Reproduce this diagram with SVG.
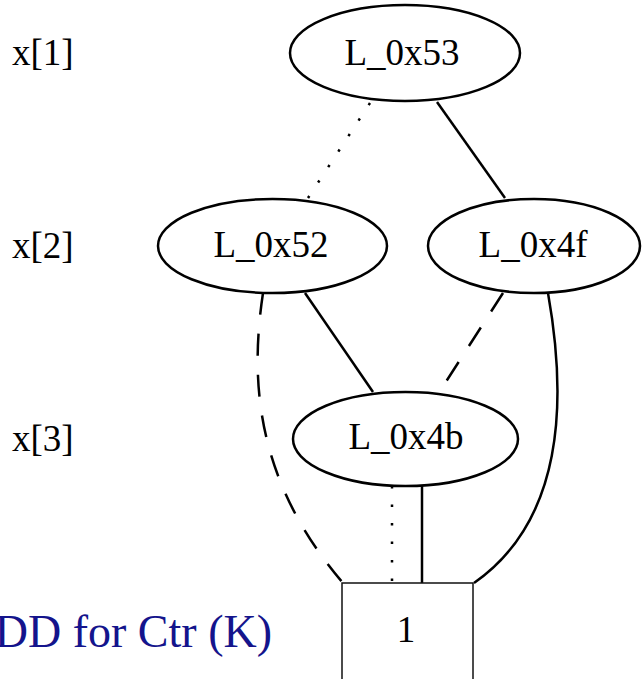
<svg xmlns="http://www.w3.org/2000/svg" width="642" height="679" viewBox="0 0 642 679">
  <style>
    .node { fill: #ffffff; stroke: #000000; stroke-width: 2.5; }
    .lbl { font-family: "Liberation Serif", "Times New Roman", serif; font-size: 37px; fill: #000000; }
    .mid { text-anchor: middle; }
    .edge { fill: none; stroke: #000000; stroke-width: 2.5; }
    .dotted { stroke-dasharray: 2.5 16; }
    .dashed { stroke-dasharray: 22 19; }
    .title { font-family: "Liberation Serif", "Times New Roman", serif; font-size: 46px; fill: #14148c; text-anchor: end; }
  </style>

  <rect x="0" y="0" width="642" height="679" fill="#ffffff"/>

  <!-- level labels -->
  <g id="levels">
    <text class="lbl" x="12" y="65">x[1]</text>
    <text class="lbl" x="12" y="258">x[2]</text>
    <text class="lbl" x="12" y="451">x[3]</text>
  </g>

  <!-- connectors -->
  <g id="edges">
    <!-- L_0x53 -> L_0x52 (else) -->
    <path class="edge dotted" d="M370,103 L308,198"/>
    <!-- L_0x53 -> L_0x4f (then) -->
    <path class="edge" d="M437,102 L505,198"/>
    <!-- L_0x52 -> L_0x4b -->
    <path class="edge" d="M305,293 L373,392"/>
    <!-- L_0x52 -> 1 (complemented) -->
    <path class="edge dashed" d="M263,293 C250,380 255,480 343,583"/>
    <!-- L_0x4f -> L_0x4b (complemented) -->
    <path class="edge dashed" d="M503,293 L440,391"/>
    <!-- L_0x4f -> 1 -->
    <path class="edge" d="M548,293 C567,400 564,520 474,583"/>
    <!-- L_0x4b -> 1 -->
    <path class="edge dotted" d="M392,486 L392,583"/>
    <path class="edge" d="M422,486 L422,583"/>
  </g>

  <g id="n_L_0x53">
    <ellipse class="node" cx="405" cy="53" rx="115" ry="48"/>
    <text class="lbl mid" x="402" y="65">L_0x53</text>
  </g>
  <g id="n_L_0x52">
    <ellipse class="node" cx="272.5" cy="246" rx="114.5" ry="47"/>
    <text class="lbl mid" x="271" y="257">L_0x52</text>
  </g>
  <g id="n_L_0x4f">
    <ellipse class="node" cx="534" cy="246" rx="106" ry="47"/>
    <text class="lbl mid" x="533" y="257">L_0x4f</text>
  </g>
  <g id="n_L_0x4b">
    <ellipse class="node" cx="405.5" cy="439" rx="112.5" ry="47"/>
    <text class="lbl mid" x="406" y="449">L_0x4b</text>
  </g>
  <g id="n_one">
    <rect x="342" y="583" width="131" height="120" fill="#ffffff" stroke="#111111" stroke-width="1.5"/>
    <text class="lbl mid" x="406" y="642">1</text>
  </g>

  <g id="caption">
    <text class="title" x="272" y="647">DD for Ctr (K)</text>
  </g>
</svg>
